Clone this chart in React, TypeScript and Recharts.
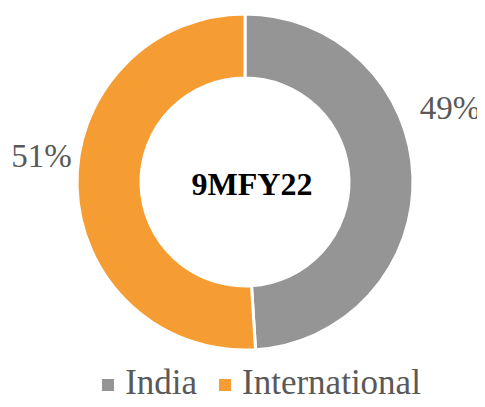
import { PieChart, Pie, Cell } from 'recharts';

const categories = ['India', 'International'];
const shares = [49, 51];
const colors = ['#959595', '#F59D33'];

const data = categories.map((name, i) => ({ name, value: shares[i] }));

// label placement tweaks (degrees added to slice mid angle, extra radius)
const labelShift = [18, -9];
const labelGap = [50, 37];

const FONT = '"Liberation Serif", "Times New Roman", serif';
const RAD = Math.PI / 180;

function renderLabel(props: any) {
  const { cx, cy, midAngle, outerRadius, index, value } = props;
  const a = (midAngle + labelShift[index]) * RAD;
  const r = outerRadius + labelGap[index];
  const x = cx + r * Math.cos(a);
  const y = cy - r * Math.sin(a);
  return (
    <text
      x={x}
      y={y}
      fill="#595959"
      fontSize={33}
      fontFamily={FONT}
      textAnchor="middle"
      dominantBaseline="central"
    >
      {value}%
    </text>
  );
}

function ChartLegend() {
  return (
    <div
      style={{
        position: 'absolute',
        left: 0,
        top: 363,
        width: 485,
        display: 'flex',
        justifyContent: 'center',
        alignItems: 'center',
        fontFamily: FONT,
        fontSize: 35,
        lineHeight: '40px',
        height: 40,
        color: '#595959',
        paddingLeft: 38,
        boxSizing: 'border-box',
      }}
    >
      {categories.map((c, i) => (
        <div key={c} style={{ display: 'flex', alignItems: 'center', marginRight: i === 0 ? 22 : 0 }}>
          <span
            style={{
              display: 'inline-block',
              width: 12,
              height: 12,
              background: colors[i],
              marginRight: 11,
              marginTop: 4,
            }}
          />
          <span>{c}</span>
        </div>
      ))}
    </div>
  );
}

export default function App() {
  return (
    <div style={{ margin: -8, width: 485, height: 407, background: '#fff', position: 'relative', overflow: 'hidden' }}>
      <PieChart width={485} height={407} margin={{ top: 0, right: 0, bottom: 0, left: 0 }}>
        <Pie
          data={data}
          dataKey="value"
          nameKey="name"
          cx={245}
          cy={182}
          innerRadius={104}
          outerRadius={168}
          startAngle={90}
          endAngle={-270}
          stroke="#ffffff"
          strokeWidth={3}
          label={renderLabel}
          labelLine={false}
          isAnimationActive={false}
        >
          {data.map((d, i) => (
            <Cell key={d.name} fill={colors[i]} />
          ))}
        </Pie>
        <text
          x={252}
          y={184}
          textAnchor="middle"
          dominantBaseline="central"
          fontFamily={FONT}
          fontWeight="bold"
          fontSize={32}
          fill="#000"
        >
          9MFY22
        </text>
      </PieChart>
      <ChartLegend />
    </div>
  );
}
